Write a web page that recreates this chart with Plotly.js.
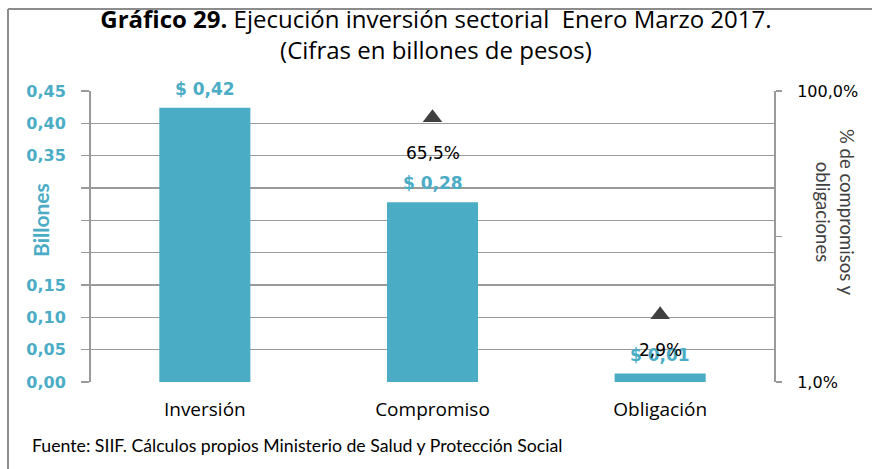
<!DOCTYPE html>
<html>
<head>
<meta charset="utf-8">
<script src="https://cdn.plot.ly/plotly-3.0.1.min.js"></script>
<style>
html,body{margin:0;padding:0;background:#fff;}
#chart{width:872px;height:469px;}
</style>
</head>
<body>
<div id="chart"></div>
<script>
// ---- data ----
const categories = ["Inversión", "Compromiso", "Obligación"];
const billones = [0.424, 0.278, 0.013];
const pctCategories = ["Compromiso", "Obligación"];
const pctValues = [65.5, 2.9];
const leftTickVals = [0, 0.05, 0.10, 0.15, 0.20, 0.25, 0.30, 0.35, 0.40, 0.45];
const leftTickText = ["0,00", "0,05", "0,10", "0,15", "", "", "", "0,35", "0,40", "0,45"];
const rightTickVals = [1, 10, 100];
const rightTickText = ["1,0%", "", "100,0%"];

const TEAL = "#4BACC6";
const GRID = "#9a9a9a";

// plot-area geometry in pixels (for paper coordinate conversion)
const W = 872, H = 469;
const mL = 91, mR = 98, mT = 91, mB = 87;
const pw = W - mL - mR, ph = H - mT - mB;
const px = x => (x - mL) / pw;
const py = y => (H - mB - y) / ph;

const fmt = (v, d) => v.toFixed(d).replace(".", ",");

const traces = [
  {
    type: "bar",
    x: categories,
    y: billones,
    marker: {color: TEAL},
    yaxis: "y",
    hoverinfo: "x+y",
    showlegend: false
  },
  {
    type: "scatter",
    mode: "markers",
    x: pctCategories,
    y: pctValues,
    yaxis: "y2",
    marker: {symbol: "triangle-up", size: 17, color: "#404040"},
    showlegend: false
  }
];

const annotations = [];
categories.forEach((c, i) => {
  annotations.push({
    x: c, y: billones[i], xref: "x", yref: "y",
    text: "$ " + fmt(billones[i], 2),
    showarrow: false, yshift: 19,
    font: {family: "DejaVu Sans", size: 17, color: TEAL, weight: "bold"}
  });
});
pctCategories.forEach((c, i) => {
  annotations.push({
    x: c, y: Math.log10(pctValues[i]), xref: "x", yref: "y2",
    text: fmt(pctValues[i], 1) + "%",
    showarrow: false, yshift: -35,
    font: {family: "DejaVu Sans", size: 17, color: "#000"}
  });
});
annotations.push({
  xref: "paper", yref: "paper", x: px(40), y: py(220),
  xanchor: "center", yanchor: "middle",
  text: "<b>Billones</b>", textangle: -90, showarrow: false,
  font: {family: "Lato", size: 21, color: TEAL}
});
annotations.push({
  xref: "paper", yref: "paper", x: px(835), y: py(212),
  xanchor: "center", yanchor: "middle",
  text: "% de compromisos y<br>obligaciones", textangle: 90, showarrow: false,
  font: {family: "Lato", size: 18.5, color: "#404040"}
});
annotations.push({
  xref: "paper", yref: "paper", x: px(30), y: py(445),
  xanchor: "left", yanchor: "middle",
  text: "Fuente: SIIF. Cálculos propios Ministerio de Salud y Protección Social",
  showarrow: false,
  font: {family: "Lato", size: 17.7, color: "#000"}
});

const layout = {
  width: W, height: H,
  margin: {l: mL, r: mR, t: mT, b: mB, autoexpand: false},
  paper_bgcolor: "#fff", plot_bgcolor: "#fff",
  title: {
    text: "<b>Gráfico 29.</b> Ejecución inversión sectorial  Enero Marzo 2017.<br>(Cifras en billones de pesos)",
    x: 0.505, xref: "paper", xanchor: "center",
    y: 0.94, yref: "container", yanchor: "top",
    font: {family: "Open Sans", size: 24, color: "#000"}
  },
  bargap: 0.6,
  xaxis: {
    type: "category",
    showgrid: false, zeroline: false, showline: false,
    ticks: "", ticklabelstandoff: 14,
    tickfont: {family: "Open Sans", size: 19, color: "#000"},
    fixedrange: true
  },
  yaxis: {
    range: [0, 0.45],
    tickmode: "array", tickvals: leftTickVals, ticktext: leftTickText,
    showgrid: true, gridcolor: GRID, gridwidth: 1.5,
    zeroline: false,
    showline: true, linecolor: GRID, linewidth: 2,
    ticks: "outside", ticklen: 8, tickwidth: 1.5, tickcolor: GRID,
    ticklabelstandoff: 12,
    tickfont: {family: "DejaVu Sans", size: 16, color: TEAL, weight: "bold"}
  },
  yaxis2: {
    type: "log", range: [0, 2],
    overlaying: "y", side: "right",
    tickmode: "array", tickvals: rightTickVals, ticktext: rightTickText,
    showgrid: false, zeroline: false,
    showline: true, linecolor: GRID, linewidth: 2,
    ticks: "outside", ticklen: 6, tickwidth: 1.5, tickcolor: GRID,
    ticklabelstandoff: 12,
    tickfont: {family: "DejaVu Sans", size: 16, color: "#000"}
  },
  shapes: [
    {type: "line", xref: "paper", yref: "paper", x0: px(8), x1: px(8), y0: py(9), y1: py(475),
     line: {color: "#8c8c8c", width: 2}},
    {type: "line", xref: "paper", yref: "paper", x0: px(8), x1: px(880), y0: py(9), y1: py(9),
     line: {color: "#8c8c8c", width: 2}}
  ],
  annotations: annotations,
  showlegend: false
};

Plotly.newPlot("chart", traces, layout, {displayModeBar: false, staticPlot: true});
</script>
</body>
</html>
